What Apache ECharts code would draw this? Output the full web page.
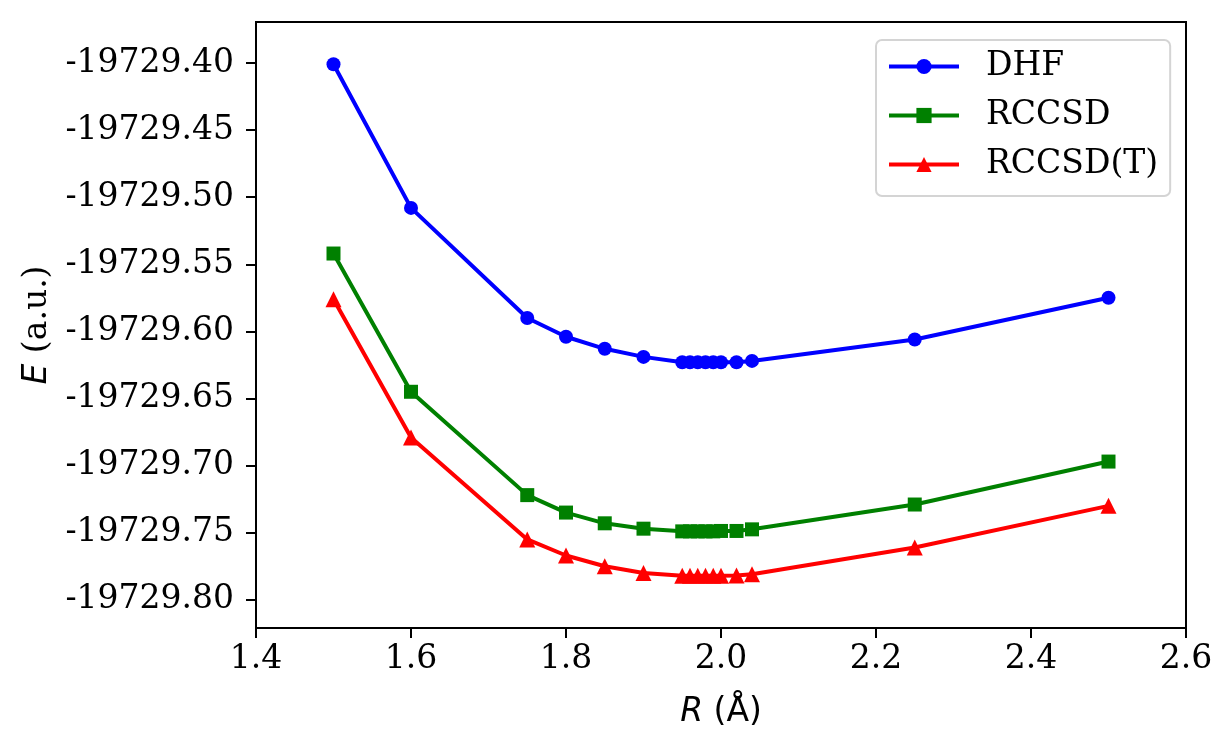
<!DOCTYPE html>
<html>
<head>
<meta charset="utf-8">
<script src="https://cdn.jsdelivr.net/npm/echarts@6/dist/echarts.min.js"></script>
<style>
html, body { margin: 0; padding: 0; background: #fff; }
#chart { width: 1232px; height: 750px; }
</style>
</head>
<body>
<div id="chart"></div>
<script>
// bond length R (Å)
var rValues = [1.5, 1.6, 1.75, 1.8, 1.85, 1.9, 1.95, 1.96, 1.97, 1.98, 1.99, 2.0, 2.02, 2.04, 2.25, 2.5];

// energies E (a.u.)
var dhf = [-19729.401, -19729.508, -19729.590, -19729.604, -19729.613, -19729.619, -19729.623, -19729.623,
    -19729.623, -19729.623, -19729.623, -19729.623, -19729.623, -19729.622, -19729.606, -19729.575];
var rccsd = [-19729.542, -19729.645, -19729.722, -19729.735, -19729.743, -19729.747, -19729.749, -19729.749,
    -19729.749, -19729.749, -19729.749, -19729.7487, -19729.7487, -19729.7475, -19729.729, -19729.697];
var rccsdT = [-19729.576, -19729.679, -19729.755, -19729.767, -19729.775, -19729.780, -19729.782, -19729.782,
    -19729.782, -19729.782, -19729.782, -19729.782, -19729.7818, -19729.781, -19729.761, -19729.730];

// y tick positions
var yTicks = [-19729.80, -19729.75, -19729.70, -19729.65, -19729.60, -19729.55, -19729.50, -19729.45, -19729.40];

function pairs(ys) {
    var out = [];
    for (var i = 0; i < rValues.length; i++) {
        out.push([rValues[i], ys[i]]);
    }
    return out;
}

var serif = 'DejaVu Serif';
var fs = 33;

function lineSeries(name, ys, color, symbol, size) {
    return {
        name: name,
        type: 'line',
        data: pairs(ys),
        symbol: symbol,
        symbolSize: size,
        showAllSymbol: true,
        lineStyle: {color: color, width: 4},
        itemStyle: {color: color},
        emphasis: {disabled: true}
    };
}

var myChart = echarts.init(document.getElementById('chart'));
var option = {
    animation: false,
    backgroundColor: '#fff',
    textStyle: {fontFamily: serif},
    grid: {
        left: 256,
        right: 46,
        top: 22,
        bottom: 122,
        show: true,
        borderColor: '#000',
        borderWidth: 2,
        containLabel: false
    },
    legend: {
        orient: 'vertical',
        left: 876,
        top: 40,
        padding: [9, 12, 14, 11],
        itemWidth: 70,
        itemHeight: 19,
        itemGap: 14,
        lineStyle: {width: 4},
        backgroundColor: 'rgba(255,255,255,0.8)',
        borderColor: '#d4d4d4',
        borderWidth: 2,
        borderRadius: 6,
        textStyle: {fontFamily: serif, fontSize: fs, color: '#000', lineHeight: 35, padding: [0, 0, 0, 22]},
        data: ['DHF', 'RCCSD', 'RCCSD(T)']
    },
    xAxis: {
        type: 'value',
        min: 1.4,
        max: 2.6,
        interval: 0.2,
        name: '{i|R}{u| (Å)}',
        nameLocation: 'middle',
        nameGap: 68,
        nameTextStyle: {
            rich: {
                i: {fontFamily: 'DejaVu Sans', fontStyle: 'italic', fontSize: fs, color: '#000'},
                u: {fontFamily: 'DejaVu Sans', fontSize: fs, color: '#000'}
            }
        },
        axisLine: {lineStyle: {color: '#000', width: 2}},
        axisTick: {length: 10, lineStyle: {color: '#000', width: 2}},
        axisLabel: {
            color: '#000',
            fontFamily: serif,
            fontSize: fs,
            margin: 15,
            formatter: function (v) { return v.toFixed(1); }
        },
        splitLine: {show: false}
    },
    yAxis: {
        type: 'value',
        min: -19729.821,
        max: -19729.3695,
        name: '{i|E}{u| (a.u.)}',
        nameLocation: 'middle',
        nameGap: 202,
        nameRotate: 90,
        nameTextStyle: {
            rich: {
                i: {fontFamily: 'DejaVu Sans', fontStyle: 'italic', fontSize: fs, color: '#000'},
                u: {fontFamily: serif, fontSize: fs, color: '#000'}
            }
        },
        axisLine: {show: true, lineStyle: {color: '#000', width: 2}},
        axisTick: {show: true, length: 10, customValues: yTicks, lineStyle: {color: '#000', width: 2}},
        axisLabel: {
            color: '#000',
            fontFamily: serif,
            fontSize: fs,
            margin: 22,
            customValues: yTicks,
            formatter: function (v) { return v.toFixed(2); }
        },
        splitLine: {show: false}
    },
    series: [
        lineSeries('DHF', dhf, '#0000ff', 'circle', 14),
        lineSeries('RCCSD', rccsd, '#008000', 'rect', 14),
        lineSeries('RCCSD(T)', rccsdT, '#ff0000', 'triangle', 16)
    ]
};

myChart.setOption(option);
</script>
</body>
</html>
